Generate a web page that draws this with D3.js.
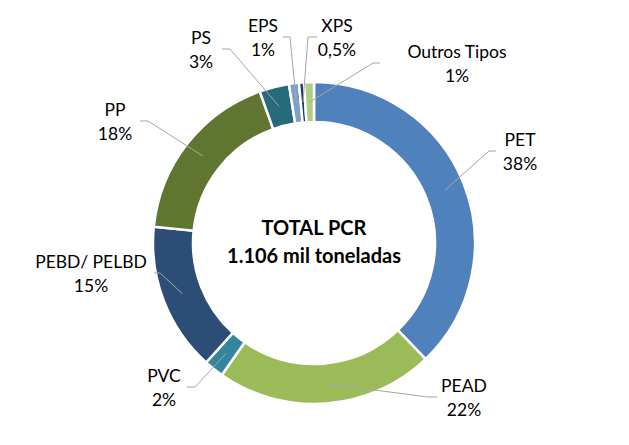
<!DOCTYPE html>
<html>
<head>
<meta charset="utf-8">
<script src="https://cdn.jsdelivr.net/npm/d3@7"></script>
<style>
  body { margin: 0; background: #fff; }
  text { font-family: Lato, "Open Sans", sans-serif; }
</style>
</head>
<body>
<main></main>
<script>
// donut of PCR by resin type, slices clockwise from 12 o'clock
let categories = ['PET', 'PEAD', 'PVC', 'PEBD/ PELBD', 'PP', 'PS', 'EPS', 'XPS', 'Outros Tipos'];
let values = [38, 22, 2, 15, 18, 3, 1, 0.5, 1];
let valueLabels = ['38%', '22%', '2%', '15%', '18%', '3%', '1%', '0,5%', '1%'];
let colors = ['#4F81BD', '#9BBB59', '#31859C', '#2C4D75', '#5F7530', '#276A7B', '#7BA0CD', '#1F3864', '#B3CC85'];

// label centres + the x where the leader line leaves the label
let labelLayout = [
  { x: 520, y: 140, lx: 496, ex: 489 },
  { x: 464, y: 386, lx: 437, ex: 428 },
  { x: 164, y: 376, lx: 187, ex: 195 },
  { x: 91,  y: 262, lx: 154, ex: 160 },
  { x: 115, y: 110, lx: 140, ex: 148 },
  { x: 201, y: 38,  lx: 222, ex: 230 },
  { x: 263, y: 26,  lx: 283, ex: 290 },
  { x: 337, y: 26,  lx: 317, ex: 308 },
  { x: 457, y: 52,  lx: 380, ex: 373 }
];

let width = 629;
let height = 445;
let cx = 314, cy = 243;
let outerR = 161, innerR = 121;

let svg = d3.select('main')
  .append('svg')
  .attr('width', width)
  .attr('height', height);

let pie = d3.pie().sort(null).value(d => d);
let arcs = pie(values);

let arc = d3.arc().innerRadius(innerR).outerRadius(outerR);
let midArc = d3.arc().innerRadius((innerR + outerR) / 2).outerRadius((innerR + outerR) / 2);

let g = svg.append('g').attr('transform', `translate(${cx},${cy})`);

g.selectAll('path.slice')
  .data(arcs)
  .enter().append('path')
  .attr('class', 'slice')
  .attr('d', arc)
  .attr('fill', (d, i) => colors[i])
  .attr('stroke', '#fff')
  .attr('stroke-width', 2.5);

// leader lines
svg.append('g').selectAll('polyline')
  .data(arcs)
  .enter().append('polyline')
  .attr('points', (d, i) => {
    let c = midArc.centroid(d);
    let L = labelLayout[i];
    let ly = L.y + 11;
    return [[cx + c[0], cy + c[1]], [L.ex, ly], [L.lx, ly]].map(p => p.join(',')).join(' ');
  })
  .attr('fill', 'none')
  .attr('stroke', '#A6A6A6')
  .attr('stroke-width', 1);

let labels = svg.append('g').selectAll('text')
  .data(categories)
  .enter().append('text')
  .attr('text-anchor', 'middle')
  .attr('font-size', 17.5)
  .attr('fill', '#000');

labels.append('tspan')
  .attr('x', (d, i) => labelLayout[i].x)
  .attr('y', (d, i) => labelLayout[i].y + 6)
  .text(d => d);

labels.append('tspan')
  .attr('x', (d, i) => labelLayout[i].x)
  .attr('y', (d, i) => labelLayout[i].y + 30)
  .text((d, i) => valueLabels[i]);

// centre title
let centre = svg.append('text')
  .attr('text-anchor', 'middle')
  .attr('font-size', 20)
  .attr('font-weight', 'bold')
  .attr('fill', '#000');
centre.append('tspan').attr('x', cx).attr('y', 235).text('TOTAL PCR');
centre.append('tspan').attr('x', cx).attr('y', 263).text('1.106 mil toneladas');
</script>
</body>
</html>
